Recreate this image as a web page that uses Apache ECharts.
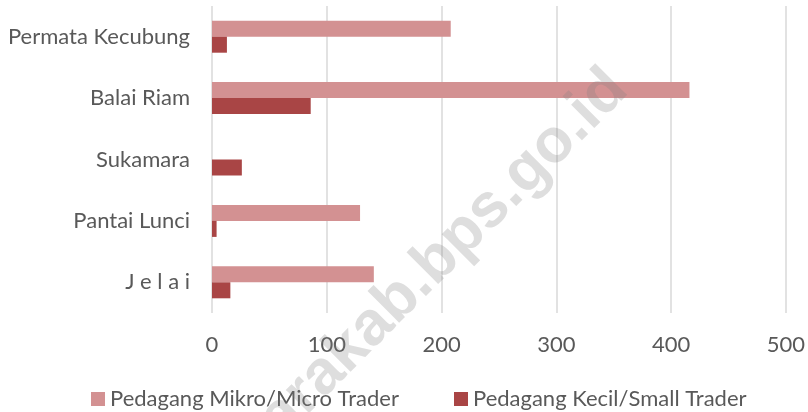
<!DOCTYPE html>
<html>
<head>
<meta charset="utf-8">
<script src="https://cdn.jsdelivr.net/npm/echarts@6/dist/echarts.min.js"></script>
<style>
  html, body { margin: 0; padding: 0; background: #fff; }
  #chart { width: 808px; height: 412px; }
</style>
</head>
<body>
<div id="chart"></div>
<script>
// categories top → bottom, as in the picture
const kecamatan = ["Permata Kecubung", "Balai Riam", "Sukamara", "Pantai Lunci", "J e l a i"];
const mikro = [208, 416, 0, 129, 141];
const kecil = [13, 86, 26, 4, 16];
const xTicks = { min: 0, max: 500, interval: 100 };

const TEXT = "#595959";
const FONT = "Lato, 'Open Sans', sans-serif";

const chart = echarts.init(document.getElementById("chart"), null, { renderer: "canvas" });

chart.setOption({
  animation: false,
  backgroundColor: "#FFFFFF",
  textStyle: { fontFamily: FONT, color: TEXT },
  grid: { left: 212, right: 21, top: 6, bottom: 99, containLabel: false },
  legend: [
    {
      left: 86, top: 383, itemWidth: 14, itemHeight: 14, itemGap: 0,
      icon: "rect",
      textStyle: { fontSize: 22, color: TEXT, fontFamily: FONT },
      data: ["Pedagang Mikro/Micro Trader"],
    },
    {
      left: 449, top: 383, itemWidth: 14, itemHeight: 14, itemGap: 0,
      icon: "rect",
      textStyle: { fontSize: 22, color: TEXT, fontFamily: FONT },
      data: ["Pedagang Kecil/Small Trader"],
    },
  ],
  xAxis: {
    type: "value",
    min: xTicks.min,
    max: xTicks.max,
    interval: xTicks.interval,
    axisLine: { show: false },
    axisTick: { show: false },
    axisLabel: { color: TEXT, fontSize: 22, margin: 21, fontFamily: FONT },
    splitLine: { show: true, lineStyle: { color: "#D9D9D9", width: 1.5 } },
  },
  yAxis: {
    type: "category",
    inverse: true,
    data: kecamatan,
    axisLine: { show: false },
    axisTick: { show: false },
    axisLabel: { color: TEXT, fontSize: 22, margin: 22, fontFamily: FONT },
    splitLine: { show: false },
  },
  series: [
    {
      name: "Pedagang Mikro/Micro Trader",
      type: "bar",
      data: mikro,
      barWidth: 16,
      barGap: "0%",
      itemStyle: { color: "#D39192" },
    },
    {
      name: "Pedagang Kecil/Small Trader",
      type: "bar",
      data: kecil,
      barWidth: 16,
      barGap: "0%",
      itemStyle: { color: "#A94545" },
    },
  ],
  graphic: [
    {
      type: "text",
      z: 100,
      x: 618,
      y: 80,
      rotation: Math.PI / 4,
      silent: true,
      style: {
        text: "sukamarakab.bps.go.id",
        fill: "rgba(128,128,128,0.26)",
        font: "bold 62px 'Liberation Sans', Arial, sans-serif",
        align: "right",
        verticalAlign: "middle",
      },
    },
  ],
});
</script>
</body>
</html>
